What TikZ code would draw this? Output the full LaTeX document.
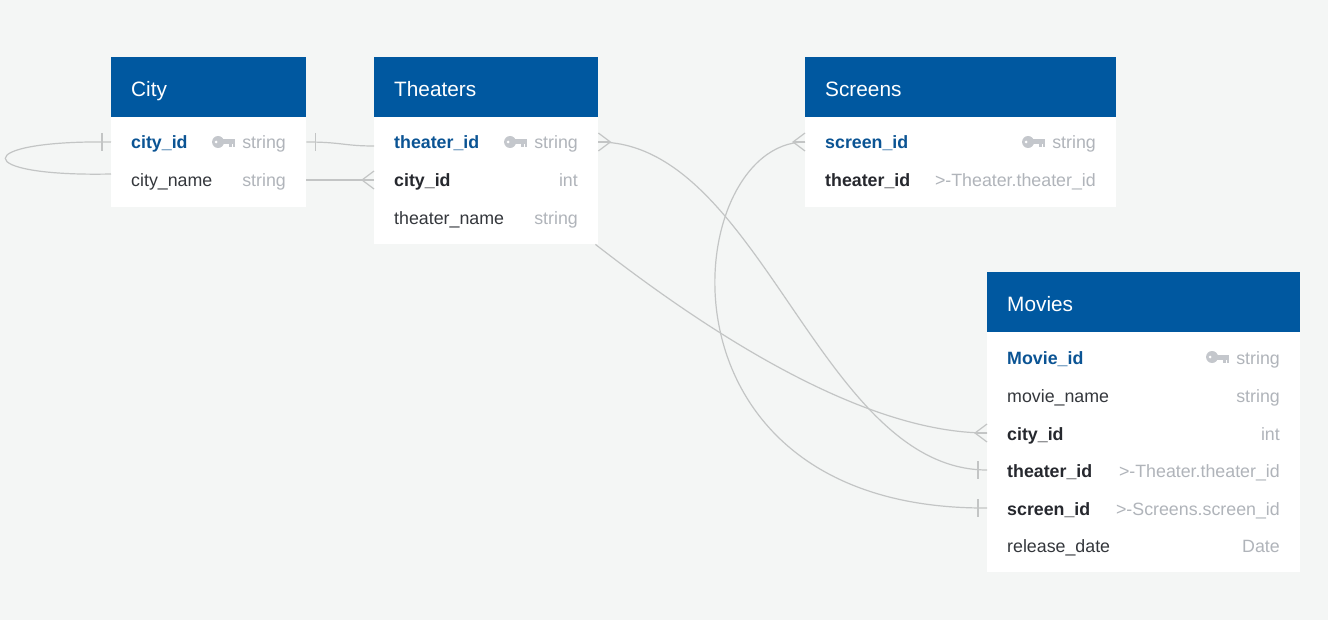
\documentclass[tikz,border=0pt]{standalone}
\usepackage{fontspec}
\setmainfont{Liberation Sans}
\usetikzlibrary{positioning,calc}
\definecolor{bg}{RGB}{244,246,245}
\definecolor{hdblue}{RGB}{0,88,160}
\definecolor{keyblue}{RGB}{11,84,148}
\definecolor{darktxt}{RGB}{38,40,46}
\definecolor{fldtxt}{RGB}{52,55,60}
\definecolor{typtxt}{RGB}{176,180,186}
\definecolor{keygray}{RGB}{196,199,204}
\definecolor{relgray}{RGB}{195,197,197}
\newcommand\rowfnt{\fontsize{17.8}{21}\selectfont}
\newcommand\hdfnt{\fontsize{20.8}{24}\selectfont}
\tikzset{
  tbl/.style={rectangle, fill=white, anchor=north west, inner sep=0pt},
  hdr/.style={rectangle, fill=hdblue, anchor=north west, inner sep=0pt, minimum height=60pt},
  title/.style={anchor=west, inner sep=0pt, text height=18pt, text depth=0pt, text=white, font=\hdfnt},
  fld/.style={anchor=west, inner sep=0pt, text height=14pt, text depth=0pt, text=fldtxt, font=\rowfnt},
  pk/.style={fld, text=keyblue, font=\rowfnt\bfseries},
  fk/.style={fld, text=darktxt, font=\rowfnt\bfseries},
  typ/.style={anchor=east, inner sep=0pt, text height=14pt, text depth=0pt, text=typtxt, font=\rowfnt},
  rel/.style={draw=relgray, line width=1.2pt},
  one/.pic={\draw[rel] (0,-9) -- (0,9);},
  many/.pic={\draw[rel] (0,-9) -- (12,0) -- (0,9); \draw[rel] (0,0) -- (12,0);},
  key/.pic={
    \fill[keygray] (-17,0) circle (6);
    \fill[keygray] (-13,-2.5) rectangle (0,2.5);
    \fill[keygray] (-6,2) rectangle (-3.5,5.5);
    \fill[keygray] (-2.5,2) rectangle (0,5.5);
    \fill[white] (-19,0) circle (1.5);
  }
}
\begin{document}
\begin{tikzpicture}[x=1pt, y=-1pt]
  \fill[bg] (0,0) rectangle (1328,620);
  \useasboundingbox (0,0) rectangle (1328,620);
  % City
  \node[tbl, minimum width=195pt, minimum height=150pt] (city) at (111,57) {};
  \node[hdr, minimum width=195pt] (cityh) at (city.north west) {};
  \node[title, right=20pt of cityh.west] {City};
  \node[pk] (cid) at (131,142) {city\_id};
  \node[typ] (cidt) at (286,142) {string};
  \pic at ($(cidt.west)+(-7,0)$) {key};
  \node[fld] (cname) at (131,180) {city\_name};
  \node[typ] at (286,180) {string};
  % Theaters
  \node[tbl, minimum width=224pt, minimum height=187pt] (thr) at (374,57) {};
  \node[hdr, minimum width=224pt] (thrh) at (thr.north west) {};
  \node[title, right=20pt of thrh.west] {Theaters};
  \node[pk] (tid) at (394,142) {theater\_id};
  \node[typ] (tidt) at (578,142) {string};
  \pic at ($(tidt.west)+(-7,0)$) {key};
  \node[fk] (tcity) at (394,180) {city\_id};
  \node[typ] at (578,180) {int};
  \node[fld] (tname) at (394,218) {theater\_name};
  \node[typ] at (578,218) {string};
  % Screens
  \node[tbl, minimum width=311pt, minimum height=150pt] (scr) at (805,57) {};
  \node[hdr, minimum width=311pt] (scrh) at (scr.north west) {};
  \node[title, right=20pt of scrh.west] {Screens};
  \node[pk] (sid) at (825,142) {screen\_id};
  \node[typ] (sidt) at (1096,142) {string};
  \pic at ($(sidt.west)+(-7,0)$) {key};
  \node[fk] (sthr) at (825,180) {theater\_id};
  \node[typ] at (1096,180) {>-Theater.theater\_id};
  % Movies
  \node[tbl, minimum width=313pt, minimum height=300pt] (mov) at (987,272) {};
  \node[hdr, minimum width=313pt] (movh) at (mov.north west) {};
  \node[title, right=20pt of movh.west] {Movies};
  \node[pk] (mid) at (1007,357) {Movie\_id};
  \node[typ] (midt) at (1280,357) {string};
  \pic at ($(midt.west)+(-7,0)$) {key};
  \node[fld] (mname) at (1007,395) {movie\_name};
  \node[typ] at (1280,395) {string};
  \node[fk] (mcity) at (1007,433) {city\_id};
  \node[typ] at (1280,433) {int};
  \node[fk] (mthr) at (1007,470) {theater\_id};
  \node[typ] at (1280,470) {>-Theater.theater\_id};
  \node[fk] (mscr) at (1007,508) {screen\_id};
  \node[typ] at (1280,508) {>-Screens.screen\_id};
  \node[fld] (mdate) at (1007,545) {release\_date};
  \node[typ] at (1280,545) {Date};
  %
  \draw[rel] (city.west |- cid) .. controls +(-141,-2) and +(-141,3) .. ($(city.west |- cname)+(0,-6)$);
  \pic at ($(city.west |- cid)+(-9,0)$) {one};
  \draw[rel] (city.east |- cid) .. controls +(35,0) and +(-30,0) .. ($(thr.west |- tid)+(0,4)$);
  \pic at ($(city.east |- cid)+(9,0)$) {one};
  \draw[rel] (city.east |- cname) -- (thr.west |- tcity);
  \pic[xscale=-1] at (thr.west |- tcity) {many};
  \draw[rel] (thr.east |- tid) .. controls +(162,0) and +(-167,0) .. (mov.west |- mthr);
  \pic at (thr.east |- tid) {many};
  \pic at ($(mov.west |- mthr)+(-9,0)$) {one};
  \draw[rel] (scr.west |- sid) .. controls +(-125,0) and +(-347,2) .. (mov.west |- mscr);
  \pic[xscale=-1] at (scr.west |- sid) {many};
  \pic at ($(mov.west |- mscr)+(-9,0)$) {one};
  \draw[rel] ($(thr.south east)+(-3,0)$) .. controls +(85,66) and +(-137,0) .. (mov.west |- mcity);
  \pic[xscale=-1] at (mov.west |- mcity) {many};
\end{tikzpicture}
\end{document}
